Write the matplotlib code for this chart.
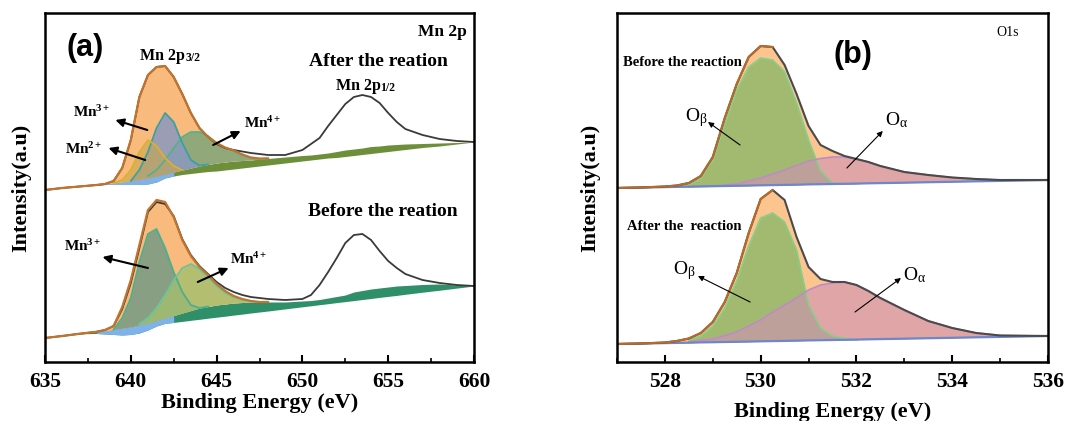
import numpy as np
import matplotlib
matplotlib.use("Agg")
import matplotlib.pyplot as plt
from matplotlib.ticker import MultipleLocator

plt.rcParams['font.family'] = ['Liberation Serif', 'DejaVu Serif']
plt.rcParams['font.weight'] = 'bold'
plt.rcParams['mathtext.fontset'] = 'custom'
plt.rcParams['mathtext.rm'] = 'Liberation Serif:weight=normal'
plt.rcParams['mathtext.it'] = 'Liberation Serif:italic'
plt.rcParams['mathtext.bf'] = 'Liberation Serif:bold'


#################################
# Mn 2p data (binding energy, intensity a.u.)
#################################

E_mn = [635, 636, 637, 638, 638.5, 639, 639.5, 640, 640.5, 641, 641.5, 642, 642.5, 643, 643.5,
        644, 644.5, 645, 645.5, 646, 646.5, 647, 647.5, 648, 649, 650, 650.5, 651, 651.5, 652,
        652.5, 653, 653.5, 654, 654.5, 655, 655.5, 656, 657, 658, 659, 660]
E_mn_env = E_mn[:24]

# after the reaction (upper curve)
raw_after = [172, 174, 175.5, 177, 178, 181, 194, 222, 265, 287, 295, 296, 285, 268, 249,
             234, 225, 218, 214, 212, 210.5, 209, 208, 207, 207, 212, 218, 224, 236, 247,
             258, 265, 267, 265, 259, 249, 240, 233, 227, 223, 221, 220]
bg_after = [172, 174, 175.5, 177, 178, 179, 180, 181, 182.5, 184, 186, 188, 190, 192, 194,
            196, 197.5, 199, 200, 201, 201.5, 202, 203, 203.5, 205, 206.5, 207, 208, 209, 210.5,
            212, 213, 214, 215.5, 216, 217, 217.5, 218, 218.5, 219, 219.5, 220]
low_after = [172, 174, 175.5, 177, 177.5, 177.5, 177.5, 177.5, 177.5, 178, 180, 184, 186, 187.5, 188.5,
             189.5, 190.5, 191, 192, 193, 194, 195, 196, 197, 199, 201, 202, 203, 204, 204.5,
             205.5, 206.5, 207.5, 208.5, 209.5, 210.5, 211.5, 212.5, 214.5, 216, 218, 220]
env_after = [172, 174, 175.5, 177, 178, 181, 194, 222, 265, 287, 295, 296, 285, 268, 249,
             234, 225, 219, 214.5, 211.5, 207.5, 204.5, 203.5, 203.5]

E_mn2_after = [639, 639.5, 640, 640.5, 641, 641.5, 642, 642.5, 643]
mn2_after = [179, 182, 192, 210, 222, 216, 204, 196, 192]
E_mn3_after = [640, 640.5, 641, 641.5, 642, 642.5, 643, 643.5, 644, 644.5]
mn3_after = [181, 192, 210, 234, 249, 240, 219, 202, 196.5, 197.5]
E_mn4_after = [641, 641.5, 642, 642.5, 643, 643.5, 644, 644.5, 645, 645.5, 646, 646.5, 647, 647.5, 648]
mn4_after = [186, 192, 202, 214, 225, 230, 230, 226, 219, 214, 211, 207, 204, 203, 203.5]

# before the reaction (lower curve)
raw_before = [24, 26, 28.2, 30.2, 32, 36, 53, 79, 114, 150, 160, 158, 146, 123, 107,
              96, 88, 80, 74, 70, 67, 65, 64, 63, 62, 63, 67, 77, 90, 104,
              119, 127, 128, 122, 111, 101, 94, 88, 82, 79, 77, 76]
bg_before = [24, 26, 28.2, 30.2, 31.3, 32.5, 33.7, 35, 37, 39, 41.5, 44, 46.5, 49, 51.5,
             54, 55.5, 57, 58, 59, 59.5, 60, 60, 60, 60, 61, 61.5, 62.5, 64, 65.5,
             67, 70, 71.5, 73, 74, 75, 76, 76.5, 77.5, 78, 77, 76]
low_before = [24, 26, 28.2, 28.5, 28, 27.5, 27, 27.5, 29, 32, 36, 38.6, 39.6, 40.6, 41.7,
              42.7, 43.8, 44.8, 45.8, 46.9, 47.9, 49, 50, 51, 53.1, 55.2, 56.2, 57.3, 58.3, 59.4,
              60.4, 61.4, 62.5, 63.5, 64.6, 65.6, 66.6, 67.7, 69.8, 71.8, 73.9, 76]
env_before = [24, 26, 28.2, 30.2, 32, 36, 55, 82, 117, 152, 162, 160, 145, 122, 106,
              95, 87, 78, 71, 66, 63, 61, 60, 60]

E_mn3_before = [639, 639.5, 640, 640.5, 641, 641.5, 642, 642.5, 643, 643.5, 644, 644.5]
mn3_before = [32.5, 44, 64, 100, 128, 133, 114, 90, 70, 57, 54, 55.5]
E_mn4_before = [640.5, 641, 641.5, 642, 642.5, 643, 643.5, 644, 644.5, 645, 645.5, 646, 646.5, 647, 647.5, 648]
mn4_before = [38, 44, 54, 67, 82, 94, 98, 93, 85, 76, 69, 65, 62, 60.5, 60, 60]

E_blue = [638, 638.5, 639, 639.5, 640, 640.5, 641, 641.5, 642, 642.5]


#################################
# O 1s data
#################################

E_o = [527, 527.5, 528, 528.25, 528.5, 528.75, 529, 529.25, 529.5, 529.75, 530, 530.25, 530.5, 530.75,
       531, 531.25, 531.5, 531.75, 532, 532.25, 532.5, 532.75, 533, 533.5, 534, 534.5, 535, 536]

raw_o_before = [174, 174.5, 175.5, 176.5, 179, 186, 205, 244, 278, 305, 316, 315, 297, 268,
                236, 217, 211, 206, 203, 200, 196, 193, 190, 187, 184.5, 183, 182, 182]
bg_o_before = [174, 174.4, 174.9, 175.1, 175.3, 175.6, 175.8, 176, 176.2, 176.4, 176.7, 176.9, 177.1, 177.3,
               177.6, 177.8, 178, 178.2, 178.4, 178.7, 178.9, 179.1, 179.3, 179.8, 180.2, 180.7, 181.1, 182]
E_ob_before = [528.25, 528.5, 528.75, 529, 529.25, 529.5, 529.75, 530, 530.25, 530.5, 530.75, 531, 531.25, 531.5, 531.75, 532]
ob_before = [176, 177.5, 184, 202, 238, 272, 295, 304, 302, 290, 259, 222, 191, 179, 178.2, 178.4]
E_oa_before = [528.5, 529, 529.5, 529.75, 530, 530.25, 530.5, 530.75, 531, 531.25, 531.5, 531.75, 532,
               532.25, 532.5, 532.75, 533, 533.5, 534, 534.5, 535, 536]
oa_before = [175.3, 175.8, 178, 181, 184, 188, 192, 196.5, 201, 203.5, 205, 205, 203,
             200, 196, 193, 190, 187, 184.5, 183, 182, 182]

raw_o_after = [18, 18.5, 19.5, 21, 23.5, 29, 40, 60, 89, 129, 163, 172, 162, 125,
               95, 83, 80, 80, 77, 71, 64, 58, 52, 41, 34, 29, 26.5, 26]
bg_o_after = [18, 18.4, 18.9, 19.1, 19.3, 19.6, 19.8, 20, 20.2, 20.4, 20.7, 20.9, 21.1, 21.3,
              21.6, 21.8, 22, 22.2, 22.4, 22.7, 22.9, 23.1, 23.3, 23.8, 24.2, 24.7, 25.1, 26]
E_ob_after = [528.5, 528.75, 529, 529.25, 529.5, 529.75, 530, 530.25, 530.5, 530.75, 531, 531.25, 531.5, 531.75, 532]
ob_after = [22, 26, 36, 54, 81, 116, 144, 149, 140, 112, 57, 34, 26, 23.5, 22.4]
E_oa_after = [528.5, 529, 529.5, 530, 530.25, 530.5, 530.75, 531, 531.25, 531.5, 531.75, 532,
              532.25, 532.5, 532.75, 533, 533.5, 534, 534.5, 535, 536]
oa_after = [20, 23, 30, 42, 50, 57, 64, 72, 77, 79, 80, 77, 71, 64, 58, 52, 41, 34, 29, 26.5, 26]


def on_grid(E_all, y_all, E_sub):
    # background values at energies that sit on the main grid
    idx = np.searchsorted(np.array(E_all, dtype=float), np.array(E_sub, dtype=float))
    return np.array(y_all)[idx]


def arrow(ax, tail, head, lw=1.5, ms=12):
    ax.annotate('', xy=head, xytext=tail,
                arrowprops=dict(arrowstyle='-|>', color='black', lw=lw, mutation_scale=ms,
                                shrinkA=0, shrinkB=0))


ORANGE = '#f9bb7d'
ORANGE_LINE = '#c0742e'
RAW = '#3a3a3a'

fig = plt.figure(figsize=(10.67, 4.21), dpi=100)
ax1 = fig.add_axes([45/1067, 59/421, 429/1067, 349/421])
ax2 = fig.add_axes([617/1067, 59/421, 431/1067, 349/421])


#################################
# (a) Mn 2p
#################################

def draw_mn(ax, raw, bg, low, env, comps, band_color):
    ax.fill_between(E_mn, low, bg, color=band_color, lw=0)
    ax.fill_between(E_blue, on_grid(E_mn, low, E_blue), on_grid(E_mn, bg, E_blue),
                    color='#7eb2ea', lw=0)
    ax.fill_between(E_mn_env, on_grid(E_mn, bg, E_mn_env), env, color=ORANGE, lw=0)
    for Ec, yc, fc, ec, al in comps:
        ax.fill_between(Ec, on_grid(E_mn, bg, Ec), yc, color=fc, alpha=al, lw=0)
        ax.plot(Ec, yc, color=ec, lw=1.3)
    ax.plot(E_mn, raw, color=RAW, lw=1.3)
    ax.plot(E_mn_env, env, color=ORANGE_LINE, lw=1.6)


draw_mn(ax1, raw_after, bg_after, low_after, env_after,
        [(E_mn4_after, mn4_after, '#6fa47a', '#56b08a', 0.75),
         (E_mn3_after, mn3_after, '#8b98c0', '#3f9f9f', 0.85),
         (E_mn2_after, mn2_after, '#c9a84a', '#d9b030', 0.6)],
        '#6e8f3a')
draw_mn(ax1, raw_before, bg_before, low_before, env_before,
        [(E_mn3_before, mn3_before, '#7c9c84', '#4fae8c', 0.9),
         (E_mn4_before, mn4_before, '#a3bf6e', '#6cc59a', 0.8)],
        '#2f8f68')

ax1.set_xlim(635, 660)
ax1.set_ylim(0, 349)
ax1.xaxis.set_major_locator(MultipleLocator(5))
ax1.xaxis.set_minor_locator(MultipleLocator(2.5))

ax1.text(637.35, 314, '(a)', family='Liberation Sans', fontsize=22, fontweight='bold',
         ha='center', va='center')
ax1.text(659.6, 330, 'Mn 2p', fontsize=12.5, ha='right', va='center')
t = ax1.text(640.55, 302, 'Mn 2p', fontsize=11.5, ha='left', va='baseline')
ax1.annotate('3/2', xy=(1, 0), xycoords=t, fontsize=8.5, ha='left', va='bottom')
ax1.text(654.45, 300.5, 'After the reation', fontsize=14, ha='center', va='center')
t = ax1.text(651.94, 272, 'Mn 2p', fontsize=11.5, ha='left', va='baseline')
ax1.annotate('1/2', xy=(1, 0), xycoords=t, fontsize=8.5, ha='left', va='bottom')
ax1.text(654.7, 150.5, 'Before the reation', fontsize=14, ha='center', va='center')

ax1.text(637.75, 250, r'$\mathbf{Mn^{3+}}$', fontsize=11, ha='center', va='center')
arrow(ax1, (640.96, 232), (639.1, 242))
ax1.text(637.28, 213, r'$\mathbf{Mn^{2+}}$', fontsize=11, ha='center', va='center')
arrow(ax1, (640.84, 202), (638.7, 214))
ax1.text(647.7, 239, r'$\mathbf{Mn^{4+}}$', fontsize=11, ha='center', va='center')
arrow(ax1, (644.8, 217), (646.4, 231))
ax1.text(637.22, 116, r'$\mathbf{Mn^{3+}}$', fontsize=11, ha='center', va='center')
arrow(ax1, (641.0, 94), (638.35, 105))
ax1.text(646.9, 103, r'$\mathbf{Mn^{4+}}$', fontsize=11, ha='center', va='center')
arrow(ax1, (643.9, 80), (645.7, 94))


#################################
# (b) O 1s
#################################

def draw_o(ax, raw, bg, Eb, ob, Ea, oa):
    ax.fill_between(E_o, bg, raw, color='#fcc590', lw=0)
    ax.fill_between(Eb, on_grid(E_o, bg, Eb), ob, color='#a2b970', lw=0)
    ax.plot(Eb, ob, color='#86cf86', lw=1.2)
    ax.fill_between(Ea, on_grid(E_o, bg, Ea), oa, color='#cf92b4', alpha=0.62, lw=0)
    ax.plot(Ea, oa, color='#c08ac8', lw=1.2)
    ax.plot(E_o, bg, color='#6f86c8', lw=1.6)
    ax.plot(E_o, raw, color='#4a4a4a', lw=1.5)
    ax.plot(E_o[:12], raw[:12], color='#b86a28', lw=1.5)


draw_o(ax2, raw_o_before, bg_o_before, E_ob_before, ob_before, E_oa_before, oa_before)
draw_o(ax2, raw_o_after, bg_o_after, E_ob_after, ob_after, E_oa_after, oa_after)

ax2.set_xlim(527, 536)
ax2.set_ylim(0, 349)
ax2.xaxis.set_major_locator(MultipleLocator(2))
ax2.xaxis.set_minor_locator(MultipleLocator(1))

ax2.text(531.93, 307, '(b)', family='Liberation Sans', fontsize=22, fontweight='bold',
         ha='center', va='center')
ax2.text(535.16, 329, 'O1s', fontsize=10, fontweight='normal', ha='center', va='center')
ax2.text(527.13, 300, 'Before the reaction', fontsize=10.5, ha='left', va='center')
ax2.text(527.21, 136, 'After the  reaction', fontsize=10.5, ha='left', va='center')

ax2.text(528.42, 244, r'O$_{\mathrm{\beta}}$', fontsize=14, fontweight='normal', ha='left', va='center')
arrow(ax2, (529.57, 217), (528.9, 240), lw=0.8, ms=8)
ax2.text(532.6, 242, r'O$_{\mathrm{\alpha}}$', fontsize=14, fontweight='normal', ha='left', va='center')
arrow(ax2, (531.8, 194), (532.55, 231), lw=0.8, ms=8)
ax2.text(528.17, 91, r'O$_{\mathrm{\beta}}$', fontsize=14, fontweight='normal', ha='left', va='center')
arrow(ax2, (529.78, 60), (528.69, 86), lw=0.8, ms=8)
ax2.text(532.97, 87, r'O$_{\mathrm{\alpha}}$', fontsize=14, fontweight='normal', ha='left', va='center')
arrow(ax2, (531.97, 50), (532.93, 84), lw=0.8, ms=8)


for ax in (ax1, ax2):
    ax.set_yticks([])
    for s in ax.spines.values():
        s.set_linewidth(1.8)
    ax.tick_params(axis='x', which='major', direction='in', length=5, width=1.5,
                   labelsize=15.5, pad=7)
    ax.tick_params(axis='x', which='minor', direction='in', length=3, width=1.2)
    ax.set_ylabel('Intensity(a.u)', fontsize=16, fontweight='bold')
    ax.set_xlabel('Binding Energy (eV)', fontsize=16, fontweight='bold')

ax1.yaxis.set_label_coords(-0.032, 0.5)
ax2.yaxis.set_label_coords(-0.040, 0.5)
ax1.xaxis.set_label_coords(0.5, -0.088)
ax2.xaxis.set_label_coords(0.5, -0.115)

fig.savefig('out.png', dpi=100)
